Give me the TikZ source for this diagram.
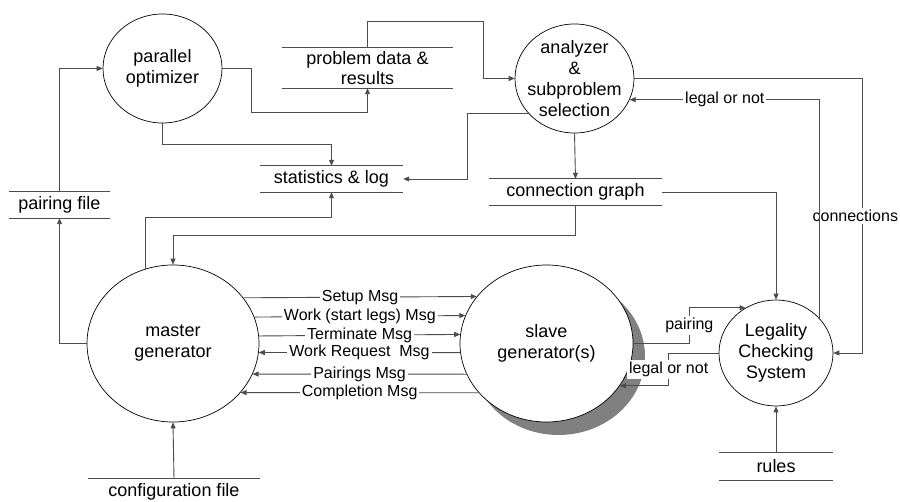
\documentclass[tikz,border=0pt]{standalone}
\usepackage{fontspec}
\setmainfont{Liberation Sans}
\usetikzlibrary{arrows.meta,shapes.geometric,shadows,calc}
\definecolor{LineClr}{rgb}{0.3,0.3,0.3}
\definecolor{ShadowClr}{rgb}{0.5,0.5,0.5}

\tikzset{
  proc/.style={ellipse,draw=black,line width=0.7pt,inner sep=0pt},
  proctext/.style={align=center,font=\fontsize{18}{21}\selectfont},
  store/.style={rectangle,align=center,inner sep=0pt,minimum height=26pt,
    font=\fontsize{18}{20}\selectfont},
  flow/.style={draw=LineClr,line width=0.9pt,-{Triangle[length=6pt,width=5pt]}},
  lbl/.style={fill=white,inner sep=2pt,text=black,font=\fontsize{16}{18}\selectfont}
}

\begin{document}
\begin{tikzpicture}[x=1pt,y=-1pt]
\clip (0,0) rectangle (900,502);
\fill[white] (0,0) rectangle (900,502);

% processes
\node[proc,minimum width=119pt,minimum height=109pt,
  label={[proctext]center:parallel\\optimizer}] (popt) at (162.5,68.5) {};
\node[proc,minimum width=119pt,minimum height=109pt,
  label={[proctext]center:analyzer\\\&\\subproblem\\selection}] (analyzer) at (574.5,78.5) {};
\node[proc,minimum width=172pt,minimum height=157pt,
  label={[proctext]center:master\\generator}] (master) at (173,343.5) {};
\node[proc,minimum width=173pt,minimum height=157pt,fill=white,
  drop shadow={shadow xshift=12pt,shadow yshift=-13pt,fill=ShadowClr,opacity=1},
  label={[proctext]center:slave\\generator(s)}] (slave) at (546.5,343.5) {};
\node[proc,minimum width=114pt,minimum height=106pt,
  label={[proctext]center:Legality\\Checking\\System}] (legal) at (776,353) {};

% data stores
\node[store,minimum width=171pt,minimum height=40pt] (pdata) at (367.5,68) {problem data \&\\results};
\node[store,minimum width=143pt] (stats) at (331.5,179) {statistics \& log};
\node[store,minimum width=101pt] (pfile) at (59.5,205) {pairing file};
\node[store,minimum width=173pt] (conn) at (575.5,192) {connection graph};
\node[store,minimum width=114pt,minimum height=27pt] (rules) at (776,466.5) {rules};
\node[store,minimum width=172pt] (config) at (174,492) {configuration file};
\foreach \s in {pdata,stats,pfile,conn,rules,config}
  \draw[LineClr,line width=0.9pt] (\s.north west) -- (\s.north east) (\s.south west) -- (\s.south east);

% flows
\draw[flow] (pfile.north) |- (popt.west);
\draw[flow] (popt.east) -- ++(29,0) -- ++(0,44) -| (pdata.south);
\draw[flow] (popt.south) -- ++(0,21) -| (stats.north);
\draw[flow] (master.110) -- ++(0,-51) -| (stats.south);
\draw[flow] (pdata.north) |- ++(116,-26) |- (analyzer.west);
\draw[flow] (analyzer.-143.3) -- ++(-61,0) |- (stats.east);
\draw[flow] (analyzer.south) -- (conn.north);
\draw[flow] (conn.south) -- ++(0,30) -| (master.north);
\draw[flow] (conn.east) -| (legal.north);
\draw[flow] (analyzer.east) -- ++(228,0) |- node[lbl,pos=.25,xshift=-7pt]{connections} (legal.east);
\draw[flow] (legal.38) |- node[lbl,pos=.75]{legal or not} (analyzer.-21.8);
\draw[flow] (master.west) -| (pfile.south);
\draw[flow] (config.north) -- (master.south);
\draw[flow] (rules.north) -- (legal.south);

% messages
\draw[flow] (master.33.3) -- node[lbl]{Setup Msg} (slave.146.7);
\draw[flow] (master.18.5) -- node[lbl]{Work (start legs) Msg} (slave.161.5);
\draw[flow] (master.5.3) -- node[lbl]{Terminate Msg} (slave.174.7);
\draw[flow] (slave.186.7) -- node[lbl]{Work Request~ Msg} (master.-6.7);
\draw[flow] (slave.201.4) -- node[lbl]{Pairings Msg} (master.-21.4);
\draw[flow] (slave.216.9) -- node[lbl]{Completion Msg} (master.-36.9);

\draw[flow] (slave.east) -- ++(56,0) |- node[lbl,pos=.25]{pairing} (legal.124);
\draw[flow] (legal.west) -- ++(-50,0) |- node[lbl,pos=.25]{legal or not} (slave.-30.8);

\end{tikzpicture}
\end{document}
